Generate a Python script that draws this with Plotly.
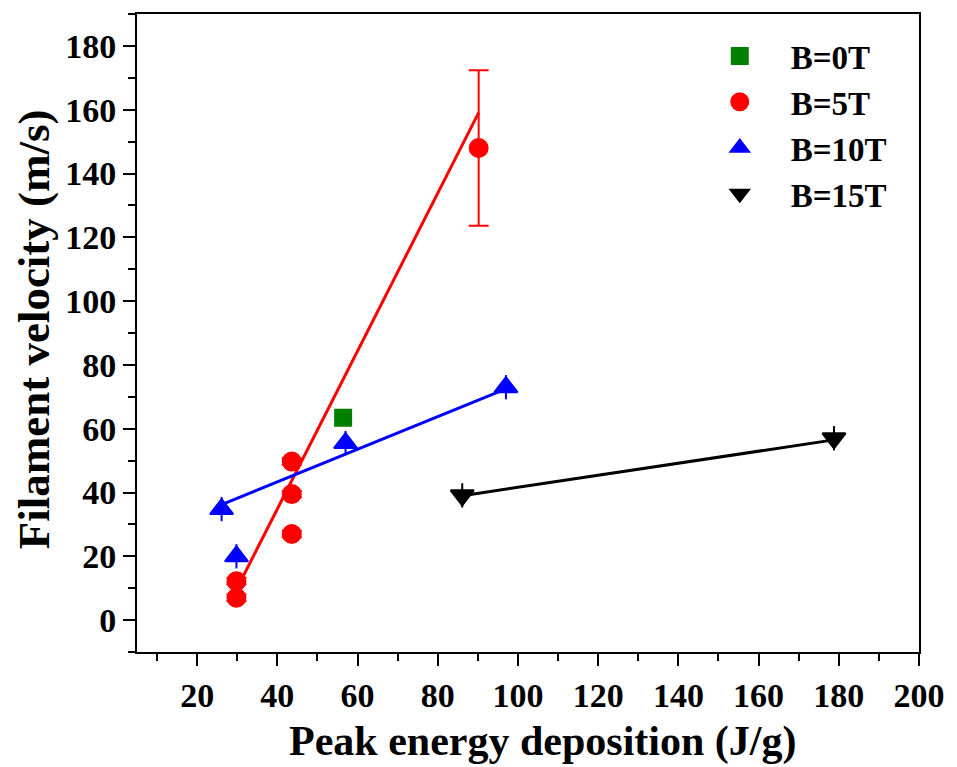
import plotly.graph_objects as go

# ---- data ----
b0_x = [56.4]
b0_y = [63.4]
b0_err = [1.5]

b5_x = [43.6, 43.6, 43.6, 29.8, 29.8, 90.2]
b5_y = [49.7, 39.5, 27.0, 12.2, 7.0, 148.0]
b5_err = [1.0, 1.0, 1.0, 1.0, 1.0, 24.4]

b10_x = [26.1, 29.8, 57.0, 97.0]
b10_y = [34.8, 20.0, 55.5, 73.0]
b10_err = [3.8, 3.8, 3.8, 3.8]

b15_x = [86.1, 178.8]
b15_y = [39.1, 57.0]
b15_err = [3.8, 3.8]

fit5_x = [29.8, 90.2]
fit5_y = [9.6, 159.1]
fit10_x = [26.1, 97.0]
fit10_y = [36.2, 72.5]
fit15_x = [86.1, 178.8]
fit15_y = [39.0, 56.5]

x_ticks = list(range(20, 201, 20))
y_ticks = list(range(0, 181, 20))

FONT = "Liberation Serif"

fig = go.Figure()

# fit lines
for fx, fy, col in [(fit5_x, fit5_y, "#ff0000"), (fit10_x, fit10_y, "#0000ff"), (fit15_x, fit15_y, "#000000")]:
    fig.add_trace(go.Scatter(x=fx, y=fy, mode="lines", line=dict(color=col, width=3),
                             showlegend=False, hoverinfo="skip"))

def pts(x, y, err, name, color, symbol, size, lw, ew=2, cw=5):
    fig.add_trace(go.Scatter(
        x=x, y=y, mode="markers", name=name,
        marker=dict(color=color, symbol=symbol, size=size, line=dict(width=lw, color=color)),
        error_y=dict(type="data", array=err, visible=True, color=color, thickness=ew, width=cw),
    ))

pts(b0_x, b0_y, b0_err, "B=0T", "#008000", "square", 15, 3, cw=3)
pts(b5_x, b5_y, b5_err, "B=5T", "#ff0000", "circle", 17, 3, ew=2, cw=10)
pts(b10_x, b10_y, b10_err, "B=10T", "#0000ff", "triangle-up", 20, 2, ew=2, cw=0)
pts(b15_x, b15_y, b15_err, "B=15T", "#000000", "triangle-down", 20, 2, ew=2, cw=0)

axis_common = dict(
    showgrid=False, zeroline=False, showline=True, linecolor="black", linewidth=2,
    mirror=True, ticks="outside", ticklen=12, tickwidth=2, tickcolor="black",
    tickfont=dict(family=FONT, size=34, color="black", weight="bold"),
)

fig.update_xaxes(
    range=[5, 200], tickvals=x_ticks, ticktext=[str(v) for v in x_ticks],
    minor=dict(dtick=10, tick0=0, ticklen=7, tickwidth=2, tickcolor="black", ticks="outside"),
    **axis_common,
)
fig.update_yaxes(
    range=[-10, 190], tickvals=y_ticks, ticktext=[str(v) for v in y_ticks],
    minor=dict(dtick=10, tick0=0, ticklen=7, tickwidth=2, tickcolor="black", ticks="outside"),
    **axis_common,
)

# axis titles placed to match the original layout
fig.add_annotation(
    text="Peak energy deposition (J/g)", xref="paper", yref="paper",
    x=(546 - 137) / 788, y=(652 - 742) / 639, xanchor="center", yanchor="middle",
    showarrow=False, font=dict(family=FONT, size=42, color="black", weight="bold"),
)
fig.add_annotation(
    text="Filament velocity (m/s)", xref="paper", yref="paper", textangle=-90,
    x=(33 - 137) / 788, y=(652 - 329) / 639, xanchor="center", yanchor="middle",
    showarrow=False, font=dict(family=FONT, size=45, color="black", weight="bold"),
)

fig.update_layout(
    width=957, height=767,
    margin=dict(l=137, r=32, t=13, b=115),
    paper_bgcolor="white", plot_bgcolor="white",
    legend=dict(
        x=(693 - 137) / 788, y=(652 - 27) / 639, xanchor="left", yanchor="top",
        font=dict(family=FONT, size=33, color="black", weight="bold"),
        bgcolor="rgba(0,0,0,0)", itemwidth=92, tracegroupgap=0,
    ),
)

fig.write_html("out.html")
